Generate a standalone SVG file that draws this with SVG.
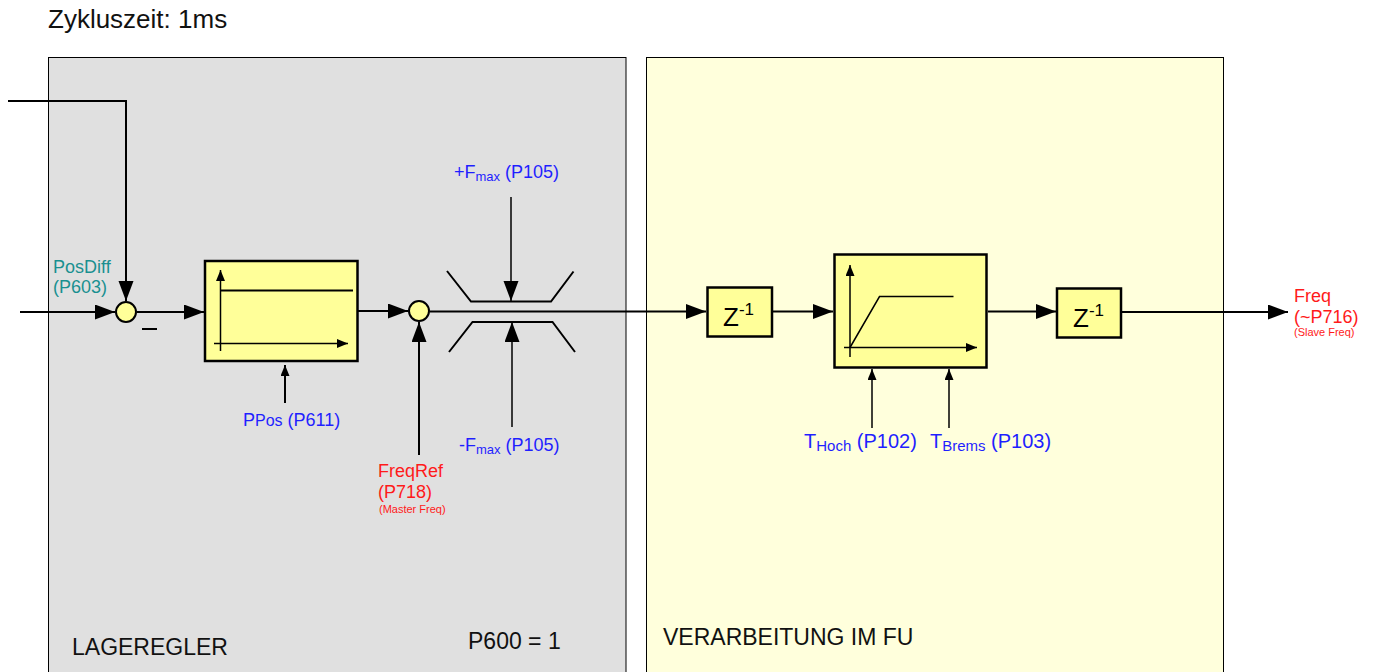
<svg xmlns="http://www.w3.org/2000/svg" width="1376" height="672" viewBox="0 0 1376 672">
<style>
text{font-family:"Liberation Sans",Arial,sans-serif;}
.blk{fill:#ffff99;stroke:#000;stroke-width:2.5;}
.sum{fill:#ffff99;stroke:#000;stroke-width:2;}
.ln{fill:none;stroke:#000;stroke-width:2;}
.thin{fill:none;stroke:#000;stroke-width:1.5;}
.ax{fill:none;stroke:#000;stroke-width:1.5;}
.blue{fill:#1f1fff;}
.red{fill:#ff1a1a;}
.teal{fill:#1a9090;}
.lbl{font-size:23px;fill:#111;}
</style>
<defs>
<marker id="big" markerUnits="userSpaceOnUse" markerWidth="21" markerHeight="16" refX="20" refY="7.5" orient="auto"><path d="M0,0 L20,7.5 L0,15 z" fill="#000"/></marker>
<marker id="sml" markerUnits="userSpaceOnUse" markerWidth="12" markerHeight="10" refX="11" refY="4.5" orient="auto"><path d="M0,0 L11,4.5 L0,9 z" fill="#000"/></marker>
</defs>
<rect width="1376" height="672" fill="#fff"/>
<g id="title"><text x="48" y="28" font-size="26" fill="#111">Zykluszeit: 1ms</text></g>
<g id="panel-lageregler">
<rect x="48.5" y="57.5" width="577.5" height="630" fill="#e0e0e0" stroke="#000" stroke-width="1"/>
<text class="lbl" x="72" y="655">LAGEREGLER</text>
<text class="lbl" x="468" y="649">P600 = 1</text>
</g>
<g id="panel-fu">
<rect x="646.5" y="57.5" width="577" height="630" fill="#ffffdc" stroke="#000" stroke-width="1"/>
<text class="lbl" x="663" y="645">VERARBEITUNG IM FU</text>
</g>
<g id="connectors">
<polyline class="ln" points="8,101 126,101 126,301" marker-end="url(#big)"/>
<line class="ln" x1="20" y1="312" x2="115" y2="312" marker-end="url(#big)"/>
<line class="ln" x1="137" y1="312" x2="204" y2="312" marker-end="url(#big)"/>
<line class="ln" x1="358" y1="311" x2="408" y2="311" marker-end="url(#big)"/>
<line class="ln" x1="419" y1="455" x2="419" y2="322" marker-end="url(#big)"/>
<line class="ln" x1="285" y1="403" x2="285" y2="365" marker-end="url(#sml)"/>
<line class="thin" x1="511" y1="197" x2="511" y2="301" marker-end="url(#big)"/>
<line class="thin" x1="512" y1="427" x2="512" y2="322" marker-end="url(#big)"/>
<line class="ln" x1="430" y1="311.5" x2="706" y2="311.5" marker-end="url(#big)"/>
<line class="ln" x1="773" y1="311.5" x2="833" y2="311.5" marker-end="url(#big)"/>
<line class="thin" x1="872" y1="428" x2="872" y2="369" marker-end="url(#sml)"/>
<line class="thin" x1="949" y1="428" x2="949" y2="369" marker-end="url(#sml)"/>
<line class="ln" x1="988" y1="311.5" x2="1056" y2="311.5" marker-end="url(#big)"/>
<line class="ln" x1="1122" y1="312" x2="1288" y2="312" marker-end="url(#big)"/>
</g>
<g id="sum1">
<circle class="sum" cx="126" cy="312" r="10"/>
<line class="ln" x1="142" y1="329" x2="157" y2="329"/>
<text class="teal" x="53" y="273" font-size="18">PosDiff</text>
<text class="teal" x="53" y="293" font-size="18">(P603)</text>
</g>
<g id="p-regler">
<rect class="blk" x="205" y="261" width="152.5" height="100"/>
<line class="ax" x1="220.5" y1="351" x2="220.5" y2="270" marker-end="url(#sml)"/>
<line class="ax" x1="214" y1="343.5" x2="348" y2="343.5" marker-end="url(#sml)"/>
<line class="ln" x1="220" y1="290.5" x2="353" y2="290.5"/>
<text class="blue" x="243" y="426" font-size="18">P<tspan font-size="16">Pos</tspan> (P611)</text>
</g>
<g id="sum2">
<circle class="sum" cx="419" cy="311" r="10"/>
<text class="red" x="378" y="477" font-size="18">FreqRef</text>
<text class="red" x="378" y="498" font-size="18">(P718)</text>
<text class="red" x="379" y="513" font-size="11">(Master Freq)</text>
</g>
<g id="limiter">
<polyline class="ln" points="447,271 471,301.5 551,301.5 573.5,271.5"/>
<polyline class="ln" points="449,352 472.5,322 552.5,322 575,352"/>
<text class="blue" x="454" y="178" font-size="18">+F<tspan font-size="13" dy="3">max</tspan><tspan dy="-3"> (P105)</tspan></text>
<text class="blue" x="459" y="451" font-size="18">-F<tspan font-size="13" dy="3">max</tspan><tspan dy="-3"> (P105)</tspan></text>
</g>
<g id="z1">
<rect class="blk" x="707.5" y="287.5" width="64.5" height="49"/>
<text x="723" y="326" font-size="26" fill="#000">Z<tspan font-size="17" dy="-11">-1</tspan></text>
</g>
<g id="rampe">
<rect class="blk" x="834.5" y="254.5" width="152" height="113"/>
<line class="ax" x1="850" y1="357" x2="850" y2="265" marker-end="url(#sml)"/>
<line class="ax" x1="844" y1="347.5" x2="977" y2="347.5" marker-end="url(#sml)"/>
<polyline class="ax" points="850,347.5 879.5,296.5 953.5,296.5"/>
<text class="blue" x="804" y="448" font-size="20">T<tspan font-size="15" dy="3">Hoch</tspan><tspan dy="-3"> (P102)</tspan></text>
<text class="blue" x="930" y="448" font-size="20">T<tspan font-size="15" dy="3">Brems</tspan><tspan dy="-3"> (P103)</tspan></text>
</g>
<g id="z2">
<rect class="blk" x="1057" y="288.5" width="64" height="49"/>
<text x="1073" y="327" font-size="26" fill="#000">Z<tspan font-size="17" dy="-11">-1</tspan></text>
</g>
<g id="out">
<text class="red" x="1294" y="302" font-size="18">Freq</text>
<text class="red" x="1294" y="323" font-size="18">(~P716)</text>
<text class="red" x="1294" y="336" font-size="11">(Slave Freq)</text>
</g>
</svg>
